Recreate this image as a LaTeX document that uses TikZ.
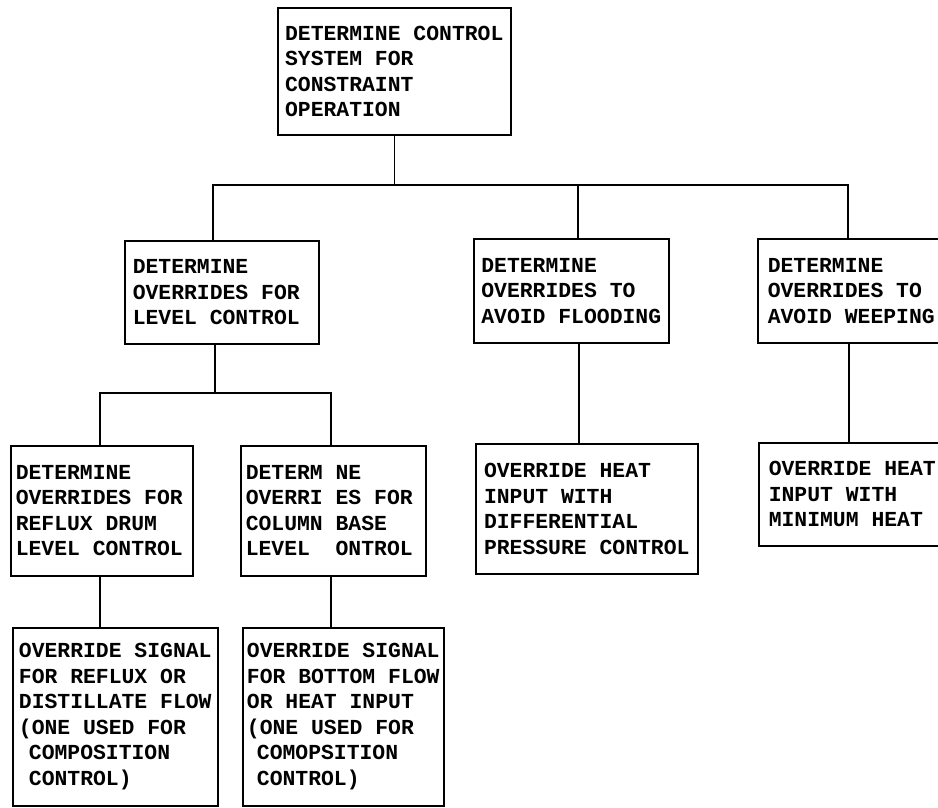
\documentclass[tikz,border=0pt]{standalone}
\usepackage{fontspec}
\setmonofont{Liberation Mono}
\begin{document}
\begin{tikzpicture}[x=1pt,y=-1pt,
  box/.style={draw, line width=1.5pt, rectangle, align=left, anchor=north west,
    inner sep=0pt, font=\ttfamily\bfseries\fontsize{21.4}{25.5}\selectfont},
  sz/.style 2 args={minimum width=#1, minimum height=#2},
  link/.style={line width=1.5pt}]
\clip (0,0) rectangle (938,807);
\fill[white] (0,0) rectangle (938,807);

% top level
\node[box, sz={233}{127}] (top) at (277,7)
  {DETERMINE CONTROL\\SYSTEM FOR\\CONSTRAINT\\OPERATION};

% second level
\node[box, sz={194}{103}] (level) at (124,240)
  {DETERMINE\\OVERRIDES FOR\rule{11pt}{0pt}\\LEVEL CONTROL};
\node[box, sz={195}{104}] (flood) at (473,238)
  {DETERMINE\\OVERRIDES TO\\AVOID FLOODING};
\node[box, sz={187}{104}] (weep) at (757,238)
  {DETERMINE\\OVERRIDES TO\\AVOID WEEPING};

% third level
\node[box, sz={182}{130}] (reflux) at (10,445)
  {DETERMINE\\OVERRIDES FOR\rule{5pt}{0pt}\\REFLUX DRUM\\LEVEL CONTROL};
\node[box, sz={185}{130}] (colbase) at (240,445)
  {DETERM NE\\OVERRI ES FOR\rule{8pt}{0pt}\\COLUMN BASE\\LEVEL\ \ ONTROL};
\node[box, sz={222}{130}] (diff) at (475,443)
  {OVERRIDE HEAT\\INPUT WITH\\DIFFERENTIAL\\PRESSURE CONTROL};
\node[box, sz={187}{103}] (minheat) at (758,442)
  {OVERRIDE HEAT\\INPUT WITH\\MINIMUM HEAT};

% fourth level
\node[box, sz={205}{178}] (signalA) at (12,627)
  {OVERRIDE SIGNAL\\FOR REFLUX OR\\DISTILLATE FLOW\\(ONE USED FOR\\\hspace*{10pt}COMPOSITION\\\hspace*{10pt}CONTROL)};
\node[box, sz={201}{178}] (signalB) at (242,627)
  {OVERRIDE SIGNAL\\FOR BOTTOM FLOW\\OR HEAT INPUT\\(ONE USED FOR\\\hspace*{10pt}COMOPSITION\\\hspace*{10pt}CONTROL)};

% junction points of the tree
\coordinate (jL) at (213,185);
\coordinate (jF) at (578,185);
\coordinate (jW) at (848,185);
\coordinate (kM) at (215,393);
\coordinate (kR) at (100,393);
\coordinate (kC) at (331,393);
\coordinate (xF) at (579,0);
\coordinate (xW) at (849,0);

% connectors
\draw[link] (top.south) -- (top.south |- jL);
\draw[link] (level.north -| jL) -- (jL) -- (jW) -- (weep.north -| jW);
\draw[link] (jF) -- (flood.north -| jF);
\draw[link] (level.south -| kM) -- (kM);
\draw[link] (reflux.north -| kR) -- (kR) -- (kC) -- (colbase.north -| kC);
\draw[link] (reflux.south -| kR) -- (signalA.north -| kR);
\draw[link] (colbase.south -| kC) -- (signalB.north -| kC);
\draw[link] (flood.south -| xF) -- (diff.north -| xF);
\draw[link] (weep.south -| xW) -- (minheat.north -| xW);
\end{tikzpicture}
\end{document}
